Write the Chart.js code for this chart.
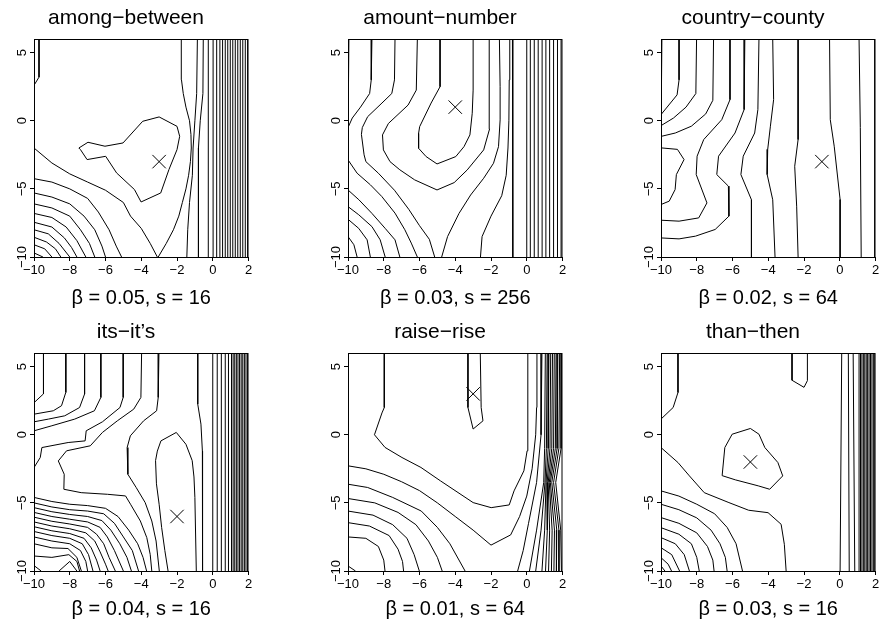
<!DOCTYPE html>
<html>
<head>
<meta charset="utf-8">
<script src="https://cdn.jsdelivr.net/npm/chart.js@4.4.0/dist/chart.umd.min.js"></script>
<style>
  html, body { margin: 0; padding: 0; background: #fff; overflow: hidden; }
  #wrap { position: relative; width: 886px; height: 622px; }
  canvas { position: absolute; }
</style>
</head>
<body>
<div id="wrap"></div>
<script>
// axes
const xTicks = [-10, -8, -6, -4, -2, 0, 2];
const yTicks = [-10, -5, 0, 5];

const panelTitles = ['among\u2212between', 'amount\u2212number', 'country\u2212county',
  'its\u2212it\u2019s', 'raise\u2212rise', 'than\u2212then'];
const panelLabels = ['\u03b2 = 0.05, s = 16', '\u03b2 = 0.03, s = 256', '\u03b2 = 0.02, s = 64',
  '\u03b2 = 0.04, s = 16', '\u03b2 = 0.01, s = 64', '\u03b2 = 0.03, s = 16'];
const optimum = [[-3, -3], [-4, 1], [-1, -3], [-2, -6], [-3, 3], [-5, -2]];

// contour lines as [x, y] vertices
const amongLines = [
  [[-9.72, 6], [-9.72, 3.2], [-10, 2.6]],
  [[-7.49, -2.0], [-6.98, -1.58], [-6.03, -1.87], [-5.02, -1.63], [-3.92, -0.04], [-3.0, 0.28], [-2.0, -0.41],
   [-1.85, -1.14], [-2.0, -2.12], [-2.45, -3.58], [-2.91, -5.3], [-4.01, -5.96], [-4.38, -5.05], [-5.38, -3.83],
   [-5.99, -2.61], [-7.03, -2.85], [-7.4, -2.12], [-7.49, -2.0]],
  [[-10, -2], [-9, -3.1], [-8, -3.9], [-7, -4.5], [-6, -5.1], [-5, -6.0], [-4.6, -7], [-4, -7.9], [-3.5, -9], [-3.1, -10]],
  [[-3.05, -10], [-2.6, -9], [-2.2, -8], [-1.9, -7], [-1.7, -6], [-1.5, -5], [-1.35, -4], [-1.25, -3], [-1.2, -2],
   [-1.22, -1], [-1.3, 0], [-1.5, 1], [-1.65, 2], [-1.75, 3], [-1.76, 4], [-1.76, 6]],
  [[-0.86, 6], [-0.9, 2], [-1.0, 0], [-1.1, -2], [-1.14, -4], [-1.3, -6], [-1.4, -8], [-1.45, -10]],
  [[-0.53, 6], [-0.55, 2], [-0.7, 0], [-0.8, -2], [-0.8, -10]],
  [[-10, -4.25], [-9, -4.5], [-8, -5.0], [-7, -5.7], [-6.4, -6.7], [-5.8, -8], [-5.4, -9.2], [-5.1, -10]],
  [[-10, -5.3], [-9, -5.6], [-8, -6.1], [-7.2, -7], [-6.6, -8], [-6.2, -9.2], [-6.0, -10]],
  [[-10, -6.1], [-9, -6.4], [-8, -7.0], [-7.4, -8], [-6.9, -9], [-6.6, -10]],
  [[-10, -6.8], [-9, -7.1], [-8.2, -7.8], [-7.6, -8.8], [-7.1, -10]],
  [[-10, -7.45], [-9, -7.8], [-8.3, -8.6], [-7.9, -9.3], [-7.6, -10]],
  [[-10, -8.0], [-9.2, -8.3], [-8.6, -9.0], [-8.0, -10]],
  [[-10, -8.55], [-9.3, -8.9], [-8.8, -9.4], [-8.5, -10]],
  [[-10, -9.1], [-9.4, -9.4], [-9.0, -10]],
  [[-10, -9.7], [-9.5, -10]]
];
const amongVerticals = [-0.25, 0.02, 0.22, 0.4, 0.55, 0.7, 0.84, 0.98, 1.12, 1.26, 1.4, 1.54, 1.68, 1.82, 1.95];

const amountLines = [
  [[-9.95, 6], [-9.95, 3], [-10, 2.2]],
  [[-8.66, 6], [-8.7, 3], [-8.79, 2.0], [-9.3, 1.0], [-9.76, 0.2], [-10, -0.5]],
  [[-7.37, 6], [-7.4, 3], [-7.55, 2], [-8.1, 1.3], [-8.9, 0.3], [-9.2, -0.5], [-9.25, -1], [-9.1, -2.5], [-9.0, -3],
   [-8.3, -3.85], [-7.4, -5.1], [-6.6, -6.5], [-6.0, -7.7], [-5.45, -8.7], [-5.15, -10]],
  [[-6.12, 6], [-6.18, 2.25], [-6.64, 1.15], [-7.74, -0.2], [-8.07, -1.04], [-8.02, -2.14], [-7.65, -3.0], [-7.1, -3.6],
   [-6.27, -4.34], [-5.02, -5.08], [-4.06, -4.54], [-3.33, -3.61], [-2.41, -2.14], [-2.08, -0.6], [-2.1, 2.3], [-2.1, 6]],
  [[-4.85, 6], [-4.85, 2.5], [-5.35, 1.3], [-5.99, -0.43], [-6.05, -0.92], [-6.05, -2.02], [-5.63, -2.63], [-5.02, -3.17],
   [-3.97, -2.63], [-3.51, -1.9], [-3.18, -1.04], [-3.05, 0.55], [-3.0, 2.25], [-3.0, 6]],
  [[-4.76, -10], [-4.43, -8.5], [-3.79, -6.8], [-3.14, -5.45], [-2.41, -4.22], [-1.86, -3.12], [-1.58, -1.9],
   [-1.49, 0.06], [-1.49, 2.5], [-1.53, 6]],
  [[-2.59, -10], [-2.5, -8.5], [-2.0, -7.0], [-1.4, -5.5], [-1.15, -4], [-1.05, -2], [-1.0, 0], [-0.98, 3], [-0.95, 6]],
  [[-0.8, 6], [-0.78, -10]],
  [[-10, -2.87], [-9.49, -3.85], [-8.75, -4.7], [-8.11, -5.56], [-7.37, -6.78], [-6.82, -8.0], [-6.46, -8.98], [-6.12, -10]],
  [[-10, -5.08], [-9.39, -5.8], [-8.66, -6.8], [-7.92, -7.9], [-7.37, -8.74], [-7.1, -10]],
  [[-10, -6.3], [-9.4, -6.9], [-8.66, -7.77], [-8.2, -8.74], [-7.92, -10]],
  [[-10, -7.23], [-9.4, -7.9], [-8.93, -8.74], [-8.75, -10]],
  [[-10, -8.5], [-9.67, -9.1], [-9.49, -10]]
];
const amountVerticals = [0.0, 0.2, 0.42, 0.64, 0.86, 1.07, 1.28, 1.5, 1.72, 1.92];

const countryLines = [
  [[-9.95, 6], [-9.95, 3], [-10, 2.3]],
  [[-8.99, 6], [-8.99, 3], [-9.1, 1.9], [-10, 0.45]],
  [[-8.01, 6], [-8.05, 2.0], [-8.6, 1.0], [-9.3, 0.2], [-10, -0.36]],
  [[-7.06, 6], [-7.1, 1.5], [-7.5, 0.5], [-8.3, -0.4], [-9.2, -0.9], [-10, -1.15]],
  [[-10, -1.99], [-9.08, -2.1], [-8.71, -2.85], [-9.14, -3.95], [-9.21, -5.05], [-9.54, -5.9], [-10, -6.15]],
  [[-6.14, 6], [-6.14, 1.55], [-6.6, 0.08], [-7.61, -1.38], [-7.98, -2.6], [-8.03, -3.95], [-7.43, -6.03],
   [-7.89, -7.13], [-8.99, -7.37], [-10, -7.3]],
  [[-5.31, 6], [-5.35, 0.82], [-5.86, -0.9], [-6.78, -2.6], [-6.88, -3.95], [-6.23, -4.8], [-6.2, -7.0],
   [-6.97, -7.98], [-8.07, -8.47], [-8.99, -8.67], [-10, -8.6]],
  [[-4.52, 6], [-4.58, 0.82], [-4.76, -0.9], [-5.4, -2.6], [-5.53, -3.95], [-4.94, -5.8], [-4.94, -10]],
  [[-3.75, 6], [-3.7, 1.55], [-3.88, -0.4], [-4.03, -2.1], [-4.06, -3.95], [-3.75, -5.8], [-3.62, -10]],
  [[-2.33, 6], [-2.33, -1.38], [-2.52, -3.34], [-2.41, -6.27], [-2.33, -10]],
  [[-0.57, 6], [-0.53, 0.08], [-0.31, -1.87], [0.02, -5.78], [0.02, -10]],
  [[1.08, 6], [1.15, -0.5], [1.2, -10]]
];
const countryVerticals = [1.95];

const itsLines = [
  [[-9.47, 6], [-9.47, 3], [-10, 2.35]],
  [[-8.22, 6], [-8.22, 3.11], [-8.46, 2.13], [-8.92, 1.76], [-10, 1.51]],
  [[-7.17, 6], [-7.17, 2.99], [-7.45, 2.0], [-8.28, 1.39], [-9.19, 1.15], [-10, 0.95]],
  [[-6.26, 6], [-6.26, 2.74], [-6.62, 1.76], [-7.72, 1.15], [-9.0, 0.66], [-10, 0.29]],
  [[-5.01, 6], [-5.01, 2.74], [-5.19, 2.0], [-6.17, 0.95], [-7.08, 0.29], [-7.14, -0.45], [-8.09, -0.57],
   [-9.56, -0.94], [-9.65, -1.67], [-10, -2.41]],
  [[-3.98, 6], [-4.02, 2.74], [-4.42, 1.88], [-5.34, 1.02], [-6.17, 0.17], [-6.85, -0.81], [-8.18, -1.18],
   [-8.64, -1.92], [-8.31, -2.9], [-8.33, -4.0], [-7.36, -4.25], [-5.89, -4.37], [-4.88, -4.49], [-4.6, -5.1],
   [-4.05, -6.33], [-3.69, -7.55], [-3.5, -8.78], [-3.41, -10]],
  [[-3.01, 6], [-3.05, 2.74], [-3.14, 1.76], [-3.87, 1.02], [-4.61, -0.08], [-4.79, -0.94], [-4.75, -2.9],
   [-4.28, -3.88], [-3.78, -4.98], [-3.41, -6.33], [-3.17, -7.8], [-2.99, -10]],
  [[-2.5, -10], [-2.68, -8.5], [-2.86, -6.8], [-3.0, -5.1], [-3.15, -3.6], [-3.2, -1.9], [-3.1, -1.2], [-2.9, -0.45],
   [-2.04, 0.17], [-1.5, -0.7], [-1.15, -1.9], [-1.05, -3.1], [-1.0, -4.6], [-0.92, -10]],
  [[-0.84, 6], [-0.84, 2.25], [-0.66, 0.78], [-0.58, -1.2], [-0.57, -10]],
  [[-10, -4.6], [-9, -4.9], [-8, -5.1], [-7, -5.2], [-6, -5.4], [-5.3, -6], [-4.7, -7], [-4.2, -8], [-3.9, -9], [-3.7, -10]],
  [[-10, -5.0], [-9, -5.3], [-8, -5.5], [-7, -5.6], [-6.1, -5.8], [-5.5, -6.5], [-5.0, -7.5], [-4.5, -8.5], [-4.15, -10]],
  [[-10, -5.35], [-9, -5.65], [-8, -5.85], [-7, -6.0], [-6.2, -6.3], [-5.7, -7], [-5.2, -8], [-4.8, -9], [-4.55, -10]],
  [[-10, -5.7], [-9, -6.0], [-8, -6.2], [-7, -6.4], [-6.3, -6.8], [-5.9, -7.5], [-5.5, -8.5], [-5.0, -10]],
  [[-10, -6.05], [-9, -6.35], [-8, -6.55], [-7, -6.8], [-6.5, -7.3], [-6.1, -8], [-5.8, -9], [-5.45, -10]],
  [[-10, -6.4], [-9, -6.7], [-8, -6.9], [-7.1, -7.2], [-6.6, -7.8], [-6.3, -8.6], [-6.0, -9.5], [-5.85, -10]],
  [[-10, -6.75], [-9, -7.05], [-8, -7.25], [-7.2, -7.6], [-6.8, -8.3], [-6.5, -9.2], [-6.3, -10]],
  [[-10, -7.1], [-9, -7.4], [-8, -7.6], [-7.3, -8.0], [-6.95, -8.8], [-6.7, -10]],
  [[-10, -7.5], [-9, -7.8], [-8, -8.0], [-7.4, -8.5], [-7.1, -9.3], [-7.0, -10]],
  [[-10, -8.0], [-9, -8.3], [-8.1, -8.35], [-7.6, -9], [-7.35, -10]],
  [[-10, -8.9], [-9, -9.0], [-8.05, -8.8], [-7.6, -9.3], [-7.45, -10]],
  [[-8.6, -10], [-8.0, -9.3], [-7.6, -10]],
  [[-10, -9.6], [-9.6, -10]]
];
const itsVerticals = [0.0, 0.25, 0.48, 0.7, 0.88, 1.05, 1.14, 1.23, 1.32, 1.41, 1.5, 1.59, 1.68, 1.77, 1.86, 1.95];

const raiseLines = [
  [[-7.97, 6], [-7.97, 2], [-8.1, 1.6], [-8.52, 0], [-7.93, -0.93], [-6.98, -1.67], [-5.92, -2.4], [-4.82, -3.39],
   [-3.0, -4.98], [-1.99, -5.35], [-0.98, -5.15], [-0.71, -4.12], [-0.16, -2.65], [0.02, -1.18], [0.06, 6]],
  [[-3.29, 6], [-3.29, 2], [-3.0, 0.42], [-2.45, 1.02], [-2.55, 2.0], [-2.6, 6]],
  [[-10, -2.28], [-9, -2.5], [-8, -2.9], [-7, -3.45], [-6, -4.1], [-5, -5.0], [-4, -6.0], [-3, -7.0], [-2, -8.1],
   [-0.9, -7.35], [-0.4, -6], [0.0, -4.5], [0.3, -2.5], [0.5, 0], [0.55, 2], [0.57, 6]],
  [[-10, -3.63], [-8.9, -3.87], [-7.5, -4.6], [-5.9, -5.6], [-5.0, -6.8], [-4.3, -8], [-3.45, -10]],
  [[-10, -4.68], [-8.5, -5.0], [-7.2, -5.7], [-6.2, -6.6], [-5.5, -7.8], [-5.0, -9], [-4.73, -10]],
  [[-10, -5.6], [-8.6, -5.9], [-7.5, -6.6], [-6.7, -7.6], [-6.3, -8.8], [-6.01, -10]],
  [[-10, -6.45], [-8.8, -6.7], [-7.7, -7.4], [-7.2, -8.4], [-6.95, -9.3], [-6.89, -10]],
  [[-10, -7.5], [-9, -7.6], [-8.3, -8.2], [-8.0, -9.2], [-7.93, -10]],
  [[-10, -9.63], [-9.58, -10]],
  [[0.85, 6], [0.8, 0], [0.55, -3.5], [0.1, -6.5], [-0.2, -8.5], [-0.51, -10]],
  [[1.04, 6], [1.0, -1], [0.95, -3.5], [0.55, -7], [0.15, -10]],
  [[1.14, 6], [1.1, -1], [1.02, -3.5], [0.8, -7], [0.5, -10]],
  [[1.24, 6], [1.2, -1], [1.08, -3.5], [1.0, -7], [0.85, -10]],
  [[1.34, 6], [1.3, -1], [1.14, -3.5], [1.15, -7], [1.05, -10]],
  [[1.44, 6], [1.4, -1], [1.2, -3.5], [1.28, -7], [1.22, -10]],
  [[1.54, 6], [1.5, -1], [1.26, -3.5], [1.42, -7], [1.38, -10]],
  [[1.64, 6], [1.6, -1], [1.32, -3.5], [1.55, -7], [1.52, -10]],
  [[1.74, 6], [1.7, -1], [1.4, -3.5], [1.68, -7], [1.66, -10]],
  [[1.84, 6], [1.8, -1], [1.5, -3.5], [1.8, -7], [1.8, -10]],
  [[1.94, 6], [1.92, -1], [1.62, -3.5], [1.9, -7], [1.94, -10]]
];
const raiseVerticals = [];

const thanLines = [
  [[-9.05, 6], [-9.05, 3.1], [-9.32, 2.0], [-10, 1.15]],
  [[-2.67, 6], [-2.67, 4.0], [-2.0, 3.48], [-1.81, 3.97], [-1.81, 6]],
  [[-6.58, -3.0], [-6.43, -0.94], [-6.02, 0.04], [-5.0, 0.46], [-4.52, 0.04], [-4.19, -0.94], [-3.46, -2.04],
   [-3.19, -3.02], [-3.92, -4.0], [-4.56, -3.75], [-5.84, -3.31], [-6.58, -3.0]],
  [[-10, -0.94], [-9.05, -2.04], [-8.41, -3.02], [-7.58, -4.25], [-6.2, -4.98], [-5.1, -5.54], [-4.01, -5.72],
   [-3.28, -6.57], [-3.1, -8.04], [-3.0, -10]],
  [[-10, -4.12], [-9, -4.5], [-8, -5.1], [-7, -5.8], [-6.3, -6.8], [-5.8, -8], [-5.44, -10]],
  [[-10, -5.1], [-9, -5.5], [-8, -6.1], [-7.2, -7], [-6.7, -8], [-6.4, -9], [-6.3, -10]],
  [[-10, -6.08], [-9, -6.5], [-8, -7.2], [-7.4, -8.2], [-7.1, -9.2], [-7.03, -10]],
  [[-10, -6.82], [-9, -7.3], [-8.3, -8], [-8.0, -9], [-7.86, -10]],
  [[-10, -7.55], [-9.2, -8], [-8.7, -8.8], [-8.41, -10]],
  [[-10, -8.29], [-9.4, -8.8], [-8.96, -10]],
  [[-10, -9.02], [-9.6, -9.5], [-9.41, -10]],
  [[-10, -9.63], [-9.78, -10]],
  [[0.11, 6], [0.02, -10]],
  [[0.48, 6], [0.53, -10]],
  [[0.75, 6], [0.84, -10]]
];
const thanVerticals = [1.08, 1.16, 1.24, 1.32, 1.4, 1.48, 1.56, 1.64, 1.72, 1.8, 1.88, 1.96];

const panelLines = [amongLines, amountLines, countryLines, itsLines, raiseLines, thanLines];
const panelVerticals = [amongVerticals, amountVerticals, countryVerticals, itsVerticals, raiseVerticals, thanVerticals];

const FONT = "'Liberation Sans', Arial, Helvetica, sans-serif";
Chart.defaults.font.family = FONT;
Chart.defaults.color = '#000';

const colLeft = [0, 314, 627];
const rowTop = [0, 314];
const rowHeight = [311, 308];

const boxPlugin = {
  id: 'box',
  afterDraw(chart) {
    const { ctx, chartArea: a } = chart;
    ctx.save();
    ctx.strokeStyle = '#000';
    ctx.lineWidth = 1;
    ctx.strokeRect(a.left + 0.5, a.top + 0.5, a.right - a.left - 1, a.bottom - a.top);
    ctx.restore();
  }
};

const minus = v => String(v).replace('-', '\u2212');
const lineStyle = { showLine: true, borderColor: '#000', borderWidth: 1, pointRadius: 0,
  fill: false, tension: 0, borderJoinStyle: 'round' };

const wrap = document.getElementById('wrap');

panelTitles.forEach((title, i) => {
  const col = i % 3, row = Math.floor(i / 3);
  const h = rowHeight[row];
  const canvas = document.createElement('canvas');
  canvas.width = 259;
  canvas.height = h;
  canvas.style.left = colLeft[col] + 'px';
  canvas.style.top = rowTop[row] + 'px';
  wrap.appendChild(canvas);

  const datasets = panelLines[i].map(pts => ({ ...lineStyle, data: pts.map(([x, y]) => ({ x, y })) }));
  panelVerticals[i].forEach(x => datasets.push({ ...lineStyle, data: [{ x, y: -10 }, { x, y: 6 }] }));
  datasets.push({
    data: [{ x: optimum[i][0], y: optimum[i][1] }],
    showLine: false, pointStyle: 'crossRot', pointRadius: 9.5,
    borderColor: '#000', backgroundColor: '#000', borderWidth: 1
  });

  new Chart(canvas, {
    type: 'scatter',
    data: { datasets },
    options: {
      responsive: false,
      animation: false,
      events: [],
      layout: { padding: { left: 0, right: 7, top: 0, bottom: 0 } },
      plugins: {
        legend: { display: false },
        tooltip: { enabled: false },
        title: {
          display: true, text: title, color: '#000',
          font: { size: 21, weight: 'normal', lineHeight: 1.2 },
          padding: { top: 6, bottom: 7.8 }
        }
      },
      scales: {
        x: {
          type: 'linear', min: -10, max: 2,
          afterBuildTicks: s => { s.ticks = xTicks.map(v => ({ value: v })); },
          afterFit: s => { s.height = h - 257; s.paddingLeft = 0; s.paddingRight = 0; },
          ticks: { font: { size: 13 }, color: '#000', padding: 2, maxRotation: 0, autoSkip: false, callback: minus },
          grid: { drawOnChartArea: false, drawTicks: true, tickLength: 4, color: '#000' },
          border: { display: false },
          title: {
            display: true, text: panelLabels[i], color: '#000',
            font: { size: 20 }, padding: { top: 0, bottom: 1 }
          }
        },
        y: {
          type: 'linear', min: -10, max: 6,
          afterBuildTicks: s => { s.ticks = yTicks.map(v => ({ value: v })); },
          afterFit: s => { s.width = 34; s.paddingTop = 0; s.paddingBottom = 0; },
          ticks: {
            font: { size: 13 }, color: '#000', padding: -3, minRotation: 90, maxRotation: 90,
            crossAlign: 'center', autoSkip: false, callback: minus
          },
          grid: { drawOnChartArea: false, drawTicks: true, tickLength: 4, color: '#000' },
          border: { display: false }
        }
      }
    },
    plugins: [boxPlugin]
  });
});
</script>
</body>
</html>
